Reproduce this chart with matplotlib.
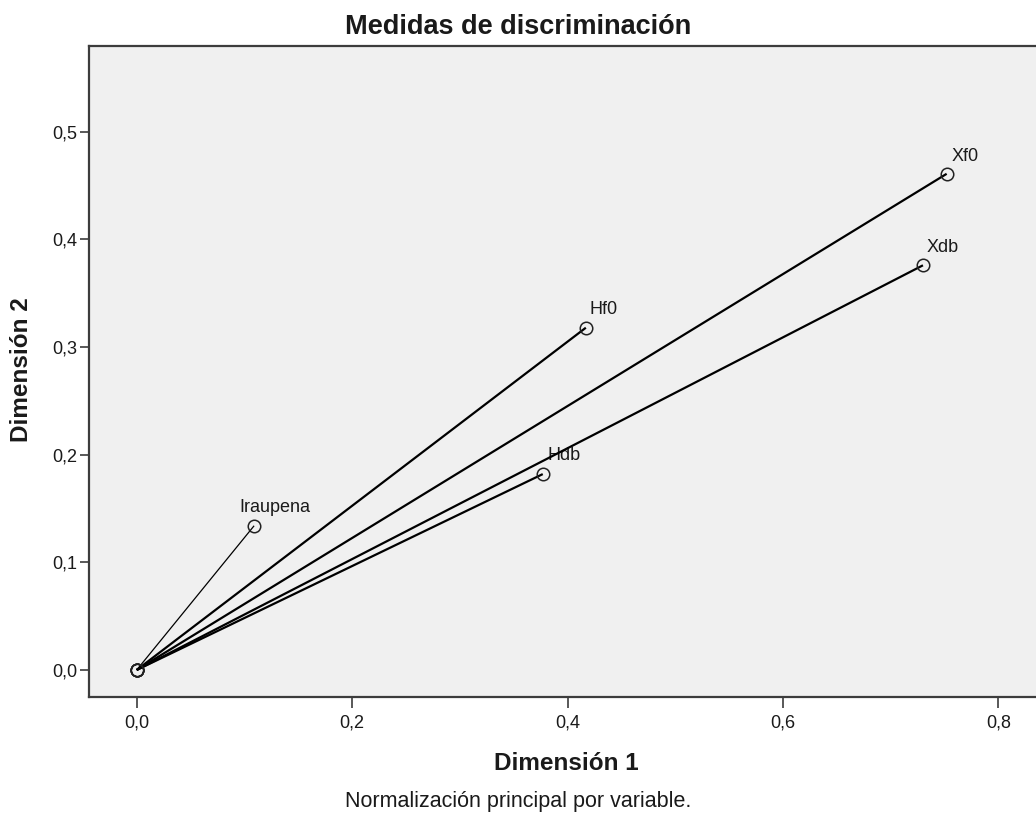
import matplotlib
matplotlib.use("Agg")
import matplotlib.pyplot as plt

plt.rcParams['font.family'] = ['Liberation Sans', 'DejaVu Sans']

# discrimination measures per variable
variables = ['Iraupena', 'Hf0', 'Hdb', 'Xf0', 'Xdb']
dim1 = [0.109, 0.417, 0.377, 0.752, 0.730]
dim2 = [0.134, 0.318, 0.182, 0.461, 0.376]

x_ticks = [0.0, 0.2, 0.4, 0.6, 0.8]
y_ticks = [0.0, 0.1, 0.2, 0.3, 0.4, 0.5]

# label placement (pixels from point) and line widths
label_offset = {'Iraupena': (-15, 14), 'Hf0': (4, 14), 'Hdb': (5, 14),
                'Xf0': (5, 13), 'Xdb': (4, 13)}
line_width = {'Iraupena': 0.9}

edge = '#3c3c3c'
ink = '#1a1a1a'

fig = plt.figure(figsize=(10.36, 8.27), dpi=100)
# the plot frame runs past the right edge of the image, as in the original
ax = fig.add_axes([0.0859, 0.1576, 0.9209, 0.7871])
ax.set_facecolor('#f0f0f0')

for name, x, y in zip(variables, dim1, dim2):
    ax.plot([0, x], [0, y], color='black', lw=line_width.get(name, 1.6),
            marker='o', ms=9, mfc='none', mec='#222222', mew=1.1,
            solid_capstyle='butt', zorder=3)
    dx, dy = label_offset[name]
    ax.annotate(name, (x, y), xytext=(dx, dy), textcoords='offset pixels',
                ha='left', va='baseline', fontsize=13, color=ink)

ax.set_xlim(-0.0443, 0.8415)
ax.set_ylim(-0.0248, 0.580)
ax.set_xticks(x_ticks)
ax.set_yticks(y_ticks)
ax.set_xticklabels([f'{v:.1f}'.replace('.', ',') for v in x_ticks])
ax.set_yticklabels([f'{v:.1f}'.replace('.', ',') for v in y_ticks])

for side in ['left', 'bottom', 'top', 'right']:
    ax.spines[side].set_color(edge)
    ax.spines[side].set_linewidth(1.6)

ax.tick_params(axis='x', direction='out', length=8, width=1.2, pad=5,
               labelsize=13, colors=edge, labelcolor=ink)
ax.tick_params(axis='y', direction='out', length=6.5, width=1.2, pad=2,
               labelsize=13, colors=edge, labelcolor=ink)

fig.text(0.5, 1 - 27 / 827, 'Medidas de discriminación', ha='center', va='center',
         fontsize=19.5, fontweight='bold', color=ink)
fig.text(566 / 1036, 1 - 763 / 827, 'Dimensión 1', ha='center', va='center',
         fontsize=17.5, fontweight='bold', color=ink)
fig.text(22 / 1036, 1 - 370 / 827, 'Dimensión 2', ha='center', va='center',
         rotation=90, fontsize=17.5, fontweight='bold', color=ink)
fig.text(0.5, 1 - 801 / 827, 'Normalización principal por variable.',
         ha='center', va='center', fontsize=15.5, color=ink)

fig.savefig('out.png', dpi=100)
